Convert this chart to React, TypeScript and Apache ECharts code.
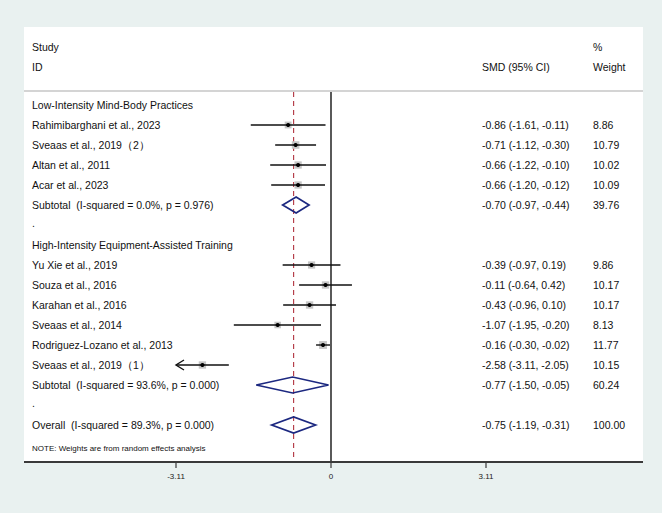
import React, { useEffect, useRef } from "react";
import * as echarts from "echarts";

// ---- data ----
const groupTitles = [
  "Low-Intensity Mind-Body Practices",
  "High-Intensity Equipment-Assisted Training",
];
const studyLabels = [
  "Rahimibarghani et al., 2023",
  "Sveaas et al., 2019（2）",
  "Altan et al., 2011",
  "Acar et al., 2023",
  "Yu Xie et al., 2019",
  "Souza et al., 2016",
  "Karahan et al., 2016",
  "Sveaas et al., 2014",
  "Rodriguez-Lozano et al., 2013",
  "Sveaas et al., 2019（1）",
];
const studyGroup = [0, 0, 0, 0, 1, 1, 1, 1, 1, 1];
const studyEffect = [-0.86, -0.71, -0.66, -0.66, -0.39, -0.11, -0.43, -1.07, -0.16, -2.58];
const studyLower = [-1.61, -1.12, -1.22, -1.2, -0.97, -0.64, -0.96, -1.95, -0.3, -3.11];
const studyUpper = [-0.11, -0.3, -0.1, -0.12, 0.19, 0.42, 0.1, -0.2, -0.02, -2.05];
const studyWeight = [8.86, 10.79, 10.02, 10.09, 9.86, 10.17, 10.17, 8.13, 11.77, 10.15];

const subtotalLabels = [
  "Subtotal  (I-squared = 0.0%, p = 0.976)",
  "Subtotal  (I-squared = 93.6%, p = 0.000)",
];
const subtotalEffect = [-0.7, -0.77];
const subtotalLower = [-0.97, -1.5];
const subtotalUpper = [-0.44, -0.05];
const subtotalWeight = [39.76, 60.24];

const overallLabel = "Overall  (I-squared = 89.3%, p = 0.000)";
const overallEffect = -0.75;
const overallLower = -1.19;
const overallUpper = -0.31;
const overallWeight = 100.0;

const tickValues = [-3.11, 0, 3.11];
const noteText = "NOTE: Weights are from random effects analysis";

// ---- layout ----
const CI_LIMIT = 3.11; // intervals beyond this get an arrow
const PX_PER_UNIT = 155 / 3.11;
const ZERO_PX = 331;
const PANEL = { left: 24, right: 643, top: 27, bottom: 462 };
const X_MIN = (PANEL.left - ZERO_PX) / PX_PER_UNIT;
const X_MAX = (PANEL.right - ZERO_PX) / PX_PER_UNIT;
const ROW_PX = 20;
const Y_MAX = (PANEL.bottom - PANEL.top) / ROW_PX;
const FIRST_ROW = 3.9;
const HEADER_LINE = 3.2;
const COL_LABEL = 32;
const COL_EST = 482;
const COL_WEIGHT = 593;
const FONT = "'Liberation Sans', Arial, Helvetica, sans-serif";
const TEXT_COLOR = "#111111";
const NAVY = "#1c2880";
const MAROON = "#b0323f";
const AXIS_COLOR = "#3a3a3a";

const fmt = (e: number, l: number, u: number) =>
  `${e.toFixed(2)} (${l.toFixed(2)}, ${u.toFixed(2)})`;

type Row = {
  kind: "group" | "study" | "subtotal" | "spacer" | "overall";
  idx: number;
  label: string;
  est?: string;
  weight?: string;
  y: number;
};

// table rows in drawing order
const rows: Row[] = [];
let r = 0;
const studyRow: number[] = [];
const subtotalRow: number[] = [];
groupTitles.forEach((title, g) => {
  rows.push({ kind: "group", idx: g, label: title, y: FIRST_ROW + r++ });
  studyLabels.forEach((name, i) => {
    if (studyGroup[i] !== g) return;
    studyRow[i] = FIRST_ROW + r;
    rows.push({
      kind: "study",
      idx: i,
      label: name,
      est: fmt(studyEffect[i], studyLower[i], studyUpper[i]),
      weight: studyWeight[i].toFixed(2),
      y: FIRST_ROW + r++,
    });
  });
  subtotalRow[g] = FIRST_ROW + r;
  rows.push({
    kind: "subtotal",
    idx: g,
    label: subtotalLabels[g],
    est: fmt(subtotalEffect[g], subtotalLower[g], subtotalUpper[g]),
    weight: subtotalWeight[g].toFixed(2),
    y: FIRST_ROW + r++,
  });
  rows.push({ kind: "spacer", idx: g, label: ".", y: FIRST_ROW + r++ });
});
const overallRow = FIRST_ROW + r;
rows.push({
  kind: "overall",
  idx: 0,
  label: overallLabel,
  est: fmt(overallEffect, overallLower, overallUpper),
  weight: overallWeight.toFixed(2),
  y: overallRow,
});

const headerTexts = [
  { text: "Study", x: COL_LABEL, y: 1.0 },
  { text: "ID", x: COL_LABEL, y: 2.0 },
  { text: "SMD (95% CI)", x: COL_EST, y: 2.0 },
  { text: "%", x: COL_WEIGHT, y: 1.0 },
  { text: "Weight", x: COL_WEIGHT, y: 2.0 },
];

const txt = (text: string, x: number, y: number, size = 10.5) => ({
  type: "text",
  x,
  y,
  style: {
    text,
    fill: TEXT_COLOR,
    fontSize: size,
    fontFamily: FONT,
    align: "left",
    verticalAlign: "middle",
  },
});

const diamonds = [
  ...subtotalEffect.map((e, g) => [e, subtotalRow[g], subtotalLower[g], subtotalUpper[g]]),
  [overallEffect, overallRow, overallLower, overallUpper],
];

const option: any = {
  animation: false,
  backgroundColor: "#e9f1f0",
  grid: {
    left: PANEL.left,
    right: 662 - PANEL.right,
    top: PANEL.top,
    bottom: 513 - PANEL.bottom,
    show: true,
    backgroundColor: "#ffffff",
    borderWidth: 0,
  },
  xAxis: {
    type: "value",
    min: X_MIN,
    max: X_MAX,
    axisLine: { show: false },
    axisTick: { show: false },
    axisLabel: {
      customValues: tickValues,
      fontSize: 8,
      color: "#222",
      margin: 10,
      fontFamily: FONT,
      formatter: (v: number) => String(v),
    },
    splitLine: { show: false },
  },
  yAxis: { type: "value", min: 0, max: Y_MAX, inverse: true, show: false },
  graphic: [
    {
      type: "line",
      shape: { x1: PANEL.left, y1: PANEL.top + HEADER_LINE * ROW_PX, x2: PANEL.right, y2: PANEL.top + HEADER_LINE * ROW_PX },
      style: { stroke: "#d4d4d4", lineWidth: 2 },
    },
  ],
  series: [
    {
      // axis baseline with tick marks
      type: "custom",
      z: 6,
      clip: false,
      data: tickValues.map((v) => [v, Y_MAX]),
      renderItem: (params: any, api: any) => {
        const [tx, ty] = api.coord([api.value(0), api.value(1)]);
        const children: any[] = [
          {
            type: "line",
            shape: { x1: tx, y1: ty, x2: tx, y2: ty + 6 },
            style: { stroke: AXIS_COLOR, lineWidth: 1.2 },
          },
        ];
        if (params.dataIndex === 0) {
          const [x0] = api.coord([X_MIN, Y_MAX]);
          const [x1] = api.coord([X_MAX, Y_MAX]);
          children.push({
            type: "line",
            shape: { x1: x0, y1: ty, x2: x1, y2: ty },
            style: { stroke: AXIS_COLOR, lineWidth: 2 },
          });
        }
        return { type: "group", children };
      },
    },
    {
      // null line and overall-effect line
      type: "custom",
      z: 1,
      data: [
        [0, 0],
        [overallEffect, 1],
      ],
      renderItem: (params: any, api: any) => {
        const x = api.value(0);
        const [px, y1] = api.coord([x, HEADER_LINE]);
        const [, y2] = api.coord([x, Y_MAX]);
        const dashed = api.value(1) === 1;
        return {
          type: "line",
          shape: { x1: px, y1: y1 + 1, x2: px, y2 },
          style: dashed
            ? { stroke: MAROON, lineWidth: 1.1, lineDash: [5, 4] }
            : { stroke: "#000", lineWidth: 1.3 },
        };
      },
    },
    {
      // pooled estimates
      type: "custom",
      z: 3,
      data: diamonds,
      renderItem: (params: any, api: any) => {
        const [xe, y] = api.coord([api.value(0), api.value(1)]);
        const [xl] = api.coord([api.value(2), api.value(1)]);
        const [xu] = api.coord([api.value(3), api.value(1)]);
        const h = 8;
        return {
          type: "polygon",
          shape: { points: [[xl, y], [xe, y - h], [xu, y], [xe, y + h]] },
          style: { fill: "none", stroke: NAVY, lineWidth: 1.7 },
        };
      },
    },
    {
      // individual studies
      type: "custom",
      z: 4,
      data: studyEffect.map((e, i) => [e, studyRow[i]]),
      renderItem: (params: any, api: any) => {
        const i = params.dataIndex;
        const row = api.value(1);
        const clipped = studyLower[i] <= -CI_LIMIT;
        const lo = Math.max(studyLower[i], -CI_LIMIT);
        const [xl, y] = api.coord([lo, row]);
        const [xu] = api.coord([studyUpper[i], row]);
        const [xe] = api.coord([studyEffect[i], row]);
        const side = 2.3 * Math.sqrt(studyWeight[i]);
        const children: any[] = [
          {
            type: "rect",
            shape: { x: xe - side / 2, y: y - side / 2, width: side, height: side },
            style: { fill: "#c6c6c6" },
          },
          {
            type: "line",
            shape: { x1: xl, y1: y, x2: xu, y2: y },
            style: { stroke: "#111", lineWidth: 1.4 },
          },
          { type: "circle", shape: { cx: xe, cy: y, r: 2.1 }, style: { fill: "#000" } },
        ];
        if (clipped) {
          children.push({
            type: "polyline",
            shape: { points: [[xl + 8, y - 5], [xl, y], [xl + 8, y + 5]] },
            style: { stroke: "#111", lineWidth: 1.4, fill: "none" },
          });
        }
        return { type: "group", children };
      },
    },
    {
      // table text
      type: "custom",
      z: 5,
      data: rows.map((row) => [0, row.y]),
      renderItem: (params: any, api: any) => {
        const row = rows[params.dataIndex];
        const [, y] = api.coord([0, row.y]);
        const children: any[] = [];
        const labelY = row.kind === "spacer" ? y - 2 : y;
        children.push(txt(row.label, COL_LABEL, labelY));
        if (row.est) children.push(txt(row.est, COL_EST, y));
        if (row.weight) children.push(txt(row.weight, COL_WEIGHT, y));
        if (params.dataIndex === 0) {
          headerTexts.forEach((h) => {
            const [, hy] = api.coord([0, h.y]);
            children.push(txt(h.text, h.x, hy));
          });
          const [, ny] = api.coord([0, overallRow + 1.15]);
          children.push(txt(noteText, COL_LABEL, ny, 8));
        }
        return { type: "group", children };
      },
    },
  ],
};

export default function App() {
  const ref = useRef<HTMLDivElement>(null);
  useEffect(() => {
    if (!ref.current) return;
    const chart = echarts.init(ref.current, null, { renderer: "svg" });
    chart.setOption(option);
    return () => chart.dispose();
  }, []);
  return (
    <div
      ref={ref}
      style={{ position: "fixed", left: 0, top: 0, width: 662, height: 513 }}
    />
  );
}
